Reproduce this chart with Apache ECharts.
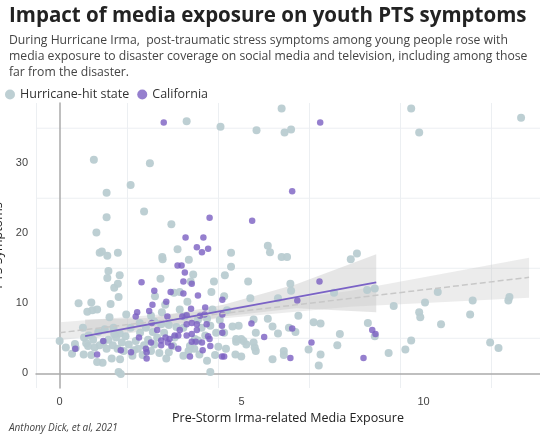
<!DOCTYPE html>
<html><head><meta charset="utf-8">
<script src="https://cdn.jsdelivr.net/npm/echarts@6/dist/echarts.min.js"></script>
<style>body{margin:0}#c{width:540px;height:434px}</style></head>
<body><div id="c"></div>
<script>
const hurricane = [[0,4.6],[0.17,3.7],[0.34,2.8],[0.42,4.2],[0.44,3.6],[0.52,10],[0.64,6.5],[0.66,2.7],[0.76,8.8],[0.87,10.1],[0.9,9],[0.94,30.5],[1.03,9.1],[1.01,20.1],[1.1,17.2],[1.16,17.4],[1.29,25.8],[1.29,22.3],[1.31,16.8],[1.34,14.6],[1.31,13.6],[1.4,9.9],[1.5,12.2],[1.6,17.2],[1.6,12.8],[1.65,14],[1.62,10.9],[1.95,26.9],[2.32,23.1],[2.48,30],[2.51,8.2],[2.62,11],[2.77,13.5],[2.82,16.6],[2.83,16.3],[3.07,21.3],[3.24,17.7],[3.14,11.5],[3.49,36],[3.55,16.2],[3.67,14.1],[3.6,13.1],[3.51,10.2],[4.24,13.1],[4.17,11.6],[4.42,35.2],[4.54,14],[4.52,11],[4.71,17.2],[4.71,15.2],[5.18,13.1],[5.24,10.7],[5.41,34.7],[5.72,18.2],[5.78,17.3],[6,10.7],[6.1,37.8],[6.1,16.6],[6.25,16.6],[6.18,34.4],[6.36,34.8],[6.34,12.8],[6.36,11.8],[8.0,16.3],[8.17,17.1],[8.45,11.9],[8.66,12.1],[9.66,37.8],[9.88,34.4],[10.39,11.6],[11.35,10.4],[12.33,10.4],[12.36,10.9],[12.68,36.5],[9.18,9.6],[9.88,8.7],[9.91,8.0],[10.04,10.1],[10.48,7],[11.28,8.4],[11.83,4.4],[12.06,3.6],[9.66,4.7],[9.5,3.4],[9.04,2.9],[8.66,5.3],[8.47,7.2],[7.7,5.6],[7.63,4],[7.54,11.5],[7.17,7.1],[7.17,2.7],[7.12,1.1],[6.98,7.3],[6.84,3.4],[6.56,8.2],[6.48,5.9],[6.3,6.5],[6.16,3.2],[6.16,2.6],[6,5.7],[5.85,6.7],[5.85,2],[5.72,7.8],[5.39,5.8],[5.33,7.7],[5.36,3.7],[5.39,3.2],[5.33,4.4],[5.13,4.1],[5.05,4.6],[4.99,4.9],[4.85,4.5],[4.85,4.9],[4.92,6.8],[4.99,2.4],[4.83,2.7],[4.57,3.5],[4.52,5.8],[4.36,3.8],[4.27,2.6],[4.3,5.8],[4.14,6.8],[4.05,1.8],[4.14,0.2],[4.05,7.8],[3.9,6.5],[3.8,4.7],[3.84,2.7],[3.72,4.9],[3.7,3.5],[3.58,3.9],[3.54,3.2],[3.4,2.5],[3.4,6.5],[3.43,8.1],[3.3,9.1],[3.21,6.6],[3.16,5.1],[3.12,3.9],[3,3],[2.93,2.1],[2.87,5.8],[2.81,8.7],[2.79,7],[2.74,2.9],[2.68,5.1],[2.6,4.1],[2.56,5.9],[2.51,3.2],[2.43,4.8],[2.37,6.5],[2.32,4],[2.28,2.6],[2.21,5.8],[2.15,3.5],[2.09,4.6],[2.04,3.3],[2,2.5],[1.95,6.5],[1.9,4.1],[1.83,8.4],[1.81,5.3],[1.76,3.2],[1.71,4.4],[1.66,2],[1.65,5.7],[1.62,0.2],[1.68,-0.1],[1.59,3.5],[1.55,5.1],[1.48,6.5],[1.46,4],[1.43,2.1],[1.37,8],[1.34,4.8],[1.29,3.5],[1.24,6.3],[1.2,4.4],[1.18,1.5],[1.1,4],[1.06,5.9],[1.03,1.6],[0.96,3.7],[0.92,4.8],[0.87,2.6],[0.8,5.4],[0.78,3.9],[0.73,4.3],[0.67,5.1],[4.75,6.7],[4,5.4],[4.2,9.1],[3.8,7.6],[4.4,7.6],[2.2,7.2],[2.6,7.4],[3.0,6.9],[1.5,5.6],[2.9,9.8],[3.3,11.6],[4.6,9.0]];
const california = [[2.86,35.8],[7.16,35.8],[6.39,26],[4.12,22.2],[5.29,21.8],[3.46,19.4],[3.95,19.4],[3.77,18],[4.08,17.8],[3.91,17.3],[3.24,15.4],[3.35,15.4],[3.44,14.4],[3.4,13.1],[3.63,12.8],[2.25,13],[7.14,13.1],[2.6,11.8],[3.05,11.6],[3.4,11.4],[3.8,11.1],[4.47,10.5],[6.53,10.4],[2.93,10.2],[2.55,9.8],[4.0,9.4],[3.61,9.2],[2.13,8.7],[2.46,8.9],[2.09,8.1],[2.96,8.1],[3.37,8.1],[3.49,8.3],[3.86,8.2],[3.98,8.4],[4.47,8.4],[2.53,7.2],[4.04,7],[3.49,7],[3.63,7.2],[3.77,7],[5.27,7.1],[4.46,6.8],[3.3,6.2],[3.77,6.2],[2.68,6.2],[3.16,5.4],[3.26,5.4],[3.49,5.4],[3.63,5.6],[4.08,5.3],[4.47,5.8],[5.62,5.2],[6.39,6.4],[8.59,6.2],[8.68,5.6],[2.18,5.1],[2.91,5.1],[3.02,4.9],[2.97,4.4],[3.63,4.5],[3.74,4.5],[3.91,4.4],[4.12,4.9],[6.92,4.4],[2.79,4],[3.07,3.9],[2.37,3.5],[1.68,3.3],[1.96,3],[2.39,3],[3.26,3.5],[3.93,3.3],[1.03,2.7],[2.39,2.1],[3.58,2.4],[4.46,2.4],[4.52,2.4],[6.34,2.2],[8.35,2.2],[1.2,4.6],[0.43,3.5],[2.79,4.7],[2.51,4.4],[4.14,3.9]];
const hurricaneFit = [[0,5.8],[12.9,13.7]];
const californiaFit = [[0.7,5.3],[8.7,13]];
// band: [x, lower, upper]
const hurricaneBand = [[0,4.7,7.3],[4,7.6,8.9],[8,9.5,11.8],[12.9,10.8,16.5]];
const californiaBand = [[0.7,4.8,7.7],[2.5,6.2,7.9],[4.5,8.1,9.8],[6.5,9.3,12.7],[8.7,8.7,17]];

function bandSeries(band, color){
  return {type:'custom', silent:true, z:1, data:[0],
    renderItem:(p, api)=>{
      const pts = band.map(b=>api.coord([b[0],b[2]])).concat(band.slice().reverse().map(b=>api.coord([b[0],b[1]])));
      return {type:'polygon', shape:{points:pts}, style:{fill:color}};
    }};
}
const chart = echarts.init(document.getElementById('c'));
chart.setOption({
  animation:false, backgroundColor:'#fff',
  title:[{text:'Impact of media exposure on youth PTS symptoms', left:4, top:1,
    textStyle:{fontFamily:'Open Sans', fontSize:20.5, fontWeight:'bold', color:'#222'}},
    {text:'During Hurricane Irma,  post-traumatic stress symptoms among young people rose with\nmedia exposure to disaster coverage on social media and television, including among those\nfar from the disaster.', left:4, top:28,
    textStyle:{fontFamily:'Open Sans', fontSize:12.2, fontWeight:'normal', color:'#444', lineHeight:16}},
    {text:'Anthony Dick, et al, 2021', left:4, top:418, textStyle:{fontFamily:'Open Sans', fontSize:10, fontStyle:'italic', fontWeight:'normal', color:'#444'}}],
  legend:{left:0, top:83, itemWidth:10, itemHeight:10, itemGap:8,
    textStyle:{fontFamily:'Open Sans', fontSize:12.5, color:'#333'},
    data:[{name:'Hurricane-hit state', icon:'circle'},{name:'California', icon:'circle'}]},
  grid:{left:36, right:0, top:103, bottom:46, containLabel:false, outerBoundsMode:'none'},
  xAxis:{type:'value', min:-0.65, max:13.2, interval:2.5,
    name:'Pre-Storm Irma-related Media Exposure', nameLocation:'middle', nameGap:20,
    nameTextStyle:{fontFamily:'Open Sans', fontSize:12.5, color:'#222'},
    axisLine:{lineStyle:{color:'#aaa', width:1.5}}, axisTick:{show:false},
    axisLabel:{customValues:[0,5,10], color:'#444', fontSize:11},
    splitLine:{lineStyle:{color:'#eceff2'}}},
  yAxis:{type:'value', min:-2.1, max:38.6,
    name:'PTS Symptoms', nameLocation:'middle', nameGap:22,
    nameTextStyle:{fontFamily:'Open Sans', fontSize:12.5, color:'#222'},
    axisLine:{show:true, lineStyle:{color:'#aaa', width:1.5}}, axisTick:{show:false},
    axisLabel:{customValues:[0,10,20,30], color:'#444', fontSize:11},
    splitLine:{show:false}},
  series:[
    {type:'custom', silent:true, z:0, data:[0], renderItem:(p,api)=>{
      const ch=[];
      [5,15,25,35].forEach(v=>{const a=api.coord([-0.65,v]), b=api.coord([13.2,v]); ch.push({type:'line',shape:{x1:a[0],y1:a[1],x2:b[0],y2:b[1]},style:{stroke:'#eceff2',lineWidth:1}});});
      return {type:'group', children:ch};}},
    bandSeries(hurricaneBand,'rgba(200,200,200,0.35)'),
    bandSeries(californiaBand,'rgba(200,200,200,0.45)'),
    {name:'Hurricane-hit state', type:'scatter', data:hurricane, symbolSize:8, z:2,
      itemStyle:{color:'#b9ccd1', opacity:0.95}},
    {name:'California', type:'scatter', data:california, symbolSize:6.5, z:3,
      itemStyle:{color:'#7a5fc2'}},
    {type:'line', data:hurricaneFit, symbol:'none', z:4, lineStyle:{color:'#c8c8c8', width:1.5, type:'dashed'}},
    {type:'line', data:californiaFit, symbol:'none', z:4, lineStyle:{color:'#7a62c6', width:1.8}}
  ]
});
</script></body></html>
